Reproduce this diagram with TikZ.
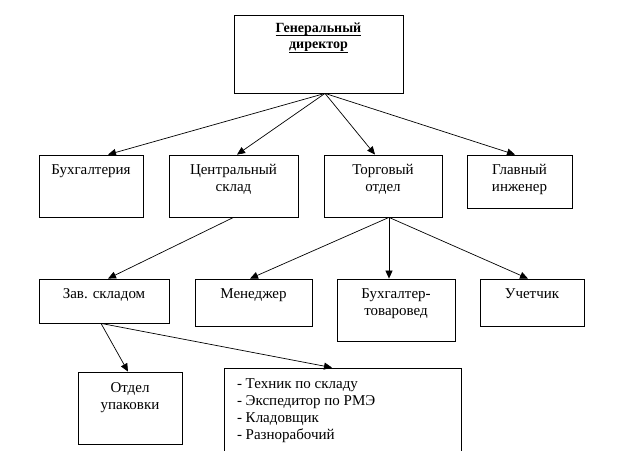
\documentclass[tikz,border=0pt]{standalone}
\usepackage{fontspec}
\setmainfont{Liberation Serif}
\usetikzlibrary{arrows.meta}
\newcommand\bxt[4]{\parbox[c][#2pt][t]{#1pt}{\centering\vspace*{#3pt}#4}}
\newcommand\ulx[1]{\leavevmode\setbox0\hbox{#1}\rlap{\rule[-3.5pt]{\wd0}{0.7pt}}\box0}
\tikzset{
  box/.style={draw, line width=0.8pt, inner sep=0pt, font=\fontsize{15}{16.7}\selectfont},
  arr/.style={-{Triangle[length=8pt,width=7pt]}, line width=0.7pt}
}
\begin{document}
\begin{tikzpicture}[x=1pt,y=-1pt]
\useasboundingbox (0,0) rectangle (623,450);
\clip (0,0) rectangle (623,450);
\node[box] (gd) at (318.5,54) {\bxt{169}{78}{6.3}{\fontsize{14}{16.2}\selectfont\bfseries\strut\ulx{Генеральный}\\\ulx{директор}}};
\node[box] (bux) at (91,186) {\bxt{104}{62}{8.3}{\strut Бухгалтерия}};
\node[box] (cs) at (233.5,186) {\bxt{129}{62}{8.3}{\strut Центральный\\склад}};
\node[box] (to) at (383,186) {\bxt{118}{62}{8.3}{\strut Торговый\\отдел}};
\node[box] (gi) at (519.5,181.5) {\bxt{105}{53}{8.3}{\strut Главный\\инженер}};
\node[box] (zav) at (104,301) {\bxt{130}{44}{8.3}{\strut Зав. складом}};
\node[box] (men) at (253.5,302.5) {\bxt{117}{47}{8.3}{\strut Менеджер}};
\node[box] (bt) at (396,310) {\bxt{118}{62}{8.3}{\strut Бухгалтер-\\товаровед}};
\node[box] (uch) at (532,302.5) {\bxt{104}{47}{8.3}{\strut Учетчик}};
\node[box] (ou) at (130,408) {\bxt{104}{72}{8.8}{\strut Отдел\\упаковки}};
\node[box] (lst) at (342.5,419) {\parbox[c][102pt][t]{237pt}{\fontsize{15}{17.1}\selectfont\raggedright\leftskip=13pt\vspace*{8.3pt}\strut - Техник по складу\\- Экспедитор по РМЭ\\- Кладовщик\\- Разнорабочий}};
\draw[arr] ([xshift=6.5pt]gd.south) -- ([xshift=17pt]bux.north);
\draw[arr] ([xshift=6.5pt]gd.south) -- ([xshift=3.5pt]cs.north);
\draw[arr] ([xshift=6.5pt]gd.south) -- ([xshift=-8pt]to.north);
\draw[arr] ([xshift=6.5pt]gd.south) -- ([xshift=-4.5pt]gi.north);
\draw[arr] (cs.south) -- ([xshift=4pt]zav.north);
\draw[arr] ([xshift=6pt]to.south) -- ([xshift=-3.5pt]men.north);
\draw[arr] ([xshift=6pt]to.south) -- ([xshift=-7pt]bt.north);
\draw[arr] ([xshift=6pt]to.south) -- ([xshift=-4pt]uch.north);
\draw[arr] ([xshift=-3pt]zav.south) -- ([xshift=-2pt]ou.north);
\draw[arr] ([xshift=-3pt]zav.south) -- ([xshift=-10.5pt]lst.north);
\end{tikzpicture}
\end{document}
